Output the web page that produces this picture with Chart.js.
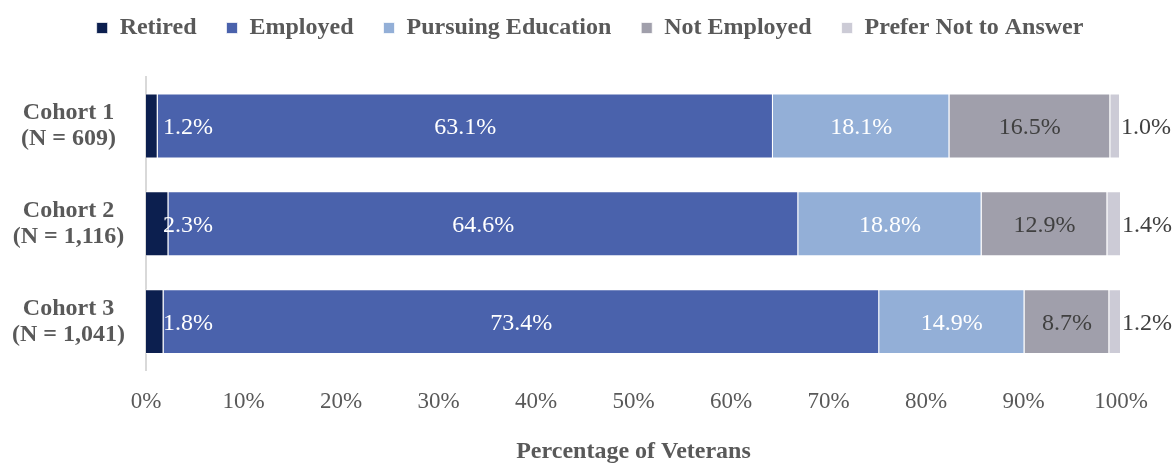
<!DOCTYPE html>
<html>
<head>
<meta charset="utf-8">
<script src="https://cdn.jsdelivr.net/npm/chart.js@4"></script>
<style>
  body { margin: 0; background: #fff; }
  #wrap { width: 1172px; height: 464px; }
</style>
</head>
<body>
<div id="wrap"><canvas id="chart"></canvas></div>
<script>
// Data
const cohorts = [['Cohort 1', '(N = 609)'], ['Cohort 2', '(N = 1,116)'], ['Cohort 3', '(N = 1,041)']];
const retired = [1.2, 2.3, 1.8];
const employed = [63.1, 64.6, 73.4];
const pursuing = [18.1, 18.8, 14.9];
const notEmployed = [16.5, 12.9, 8.7];
const preferNot = [1.0, 1.4, 1.2];

const serif = "'Liberation Serif', 'Times New Roman', serif";
const grayText = '#595959';

// Value labels drawn on top of the bars
const barLabels = {
  id: 'barLabels',
  afterDatasetsDraw(chart) {
    const { ctx, scales } = chart;
    const x0 = scales.x.getPixelForValue(0);
    ctx.save();
    ctx.font = '24px ' + serif;
    ctx.textBaseline = 'middle';
    chart.data.datasets.forEach((ds, di) => {
      const meta = chart.getDatasetMeta(di);
      meta.data.forEach((bar, i) => {
        const txt = ds.data[i].toFixed(1) + '%';
        let x;
        if (di === 0) {
          ctx.textAlign = 'left';
          x = x0 + 17;
        } else if (di === 4) {
          ctx.textAlign = 'left';
          x = bar.x + 1;
        } else {
          ctx.textAlign = 'center';
          x = (bar.base + bar.x) / 2;
        }
        ctx.fillStyle = di < 3 ? '#ffffff' : '#404040';
        ctx.fillText(txt, x, bar.y + 2);
      });
    });
    ctx.restore();
  }
};

// Extra room below the legend, and nudge it right like the original
const legendTweak = {
  id: 'legendTweak',
  beforeInit(chart) {
    const lg = chart.legend;
    const fit = lg.fit;
    lg.fit = function () {
      fit.call(this);
      this.height += 27;
    };
    const draw = lg.draw;
    lg.draw = function () {
      this.ctx.save();
      this.ctx.translate(30, 0);
      draw.call(this);
      this.ctx.restore();
    };
  }
};

const ctx = document.getElementById('chart').getContext('2d');
const chart = new Chart(ctx, {
  type: 'bar',
  data: {
    labels: cohorts,
    datasets: [
      { label: 'Retired', data: retired, backgroundColor: '#0c1f4f' },
      { label: 'Employed', data: employed, backgroundColor: '#4a62ac' },
      { label: 'Pursuing Education', data: pursuing, backgroundColor: '#93afd7' },
      { label: 'Not Employed', data: notEmployed, backgroundColor: '#a09fab' },
      { label: 'Prefer Not to Answer', data: preferNot, backgroundColor: '#cccbd6' }
    ].map(d => Object.assign(d, {
      borderColor: 'rgba(255,255,255,0.7)',
      borderWidth: 1,
      barPercentage: 0.663,
      categoryPercentage: 1.0
    }))
  },
  options: {
    indexAxis: 'y',
    responsive: true,
    maintainAspectRatio: false,
    animation: false,
    layout: { padding: { top: -14, right: 51, left: -1, bottom: -2 } },
    plugins: {
      legend: {
        position: 'top',
        labels: {
          boxWidth: 11,
          boxHeight: 11,
          padding: 30,
          color: grayText,
          font: { family: serif, size: 24, weight: 'bold' }
        }
      },
      tooltip: { enabled: false }
    },
    scales: {
      x: {
        stacked: true,
        min: 0,
        max: 100,
        grid: { display: false },
        border: { display: false },
        ticks: {
          stepSize: 10,
          padding: 10,
          color: grayText,
          font: { family: serif, size: 23 },
          callback: v => v + '%'
        },
        title: {
          display: true,
          text: 'Percentage of Veterans',
          color: grayText,
          padding: { top: 11, bottom: 0 },
          font: { family: serif, size: 24, weight: 'bold' }
        }
      },
      y: {
        stacked: true,
        grid: { display: false },
        border: { color: '#d9d9d9', width: 2 },
        ticks: {
          padding: 13,
          crossAlign: 'center',
          color: grayText,
          font: { family: serif, size: 24, weight: 'bold', lineHeight: 1.1 }
        }
      }
    }
  },
  plugins: [barLabels, legendTweak]
});
</script>
</body>
</html>
